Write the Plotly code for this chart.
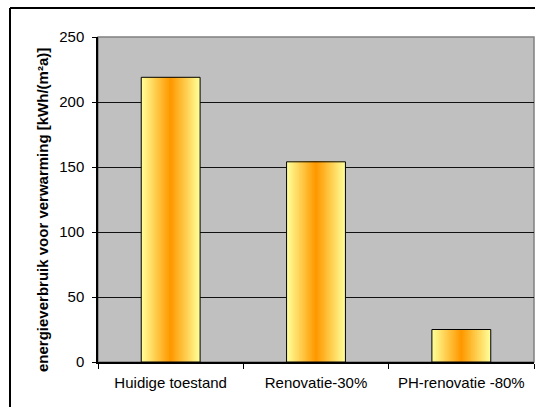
import plotly.graph_objects as go

categories = ["Huidige toestand", "Renovatie-30%", "PH-renovatie -80%"]
values = [219, 154, 25]
y_ticks = [0, 50, 100, 150, 200, 250]
y_title = "energieverbruik voor verwarming [kWh/(m²a)]"

FONT = "Liberation Sans, Arial, sans-serif"
W, H = 535, 407
ML, MR, MT, MB = 98, 1, 37, 45
PW, PH = W - ML - MR, H - MT - MB

edge = (255, 255, 153)
center = (255, 153, 0)
bar_w = 0.405
N = 36

fig = go.Figure()
for k in range(N):
    t = k / (N - 1)
    col = tuple(round(edge[i] + (center[i] - edge[i]) * t) for i in range(3))
    w = bar_w * (1 - k / N)
    fig.add_trace(go.Bar(
        x=categories, y=values, width=[w] * len(categories),
        marker=dict(color="rgb(%d,%d,%d)" % col, line=dict(width=0)),
        showlegend=False, hoverinfo="skip",
    ))
# outline
fig.add_trace(go.Bar(
    x=categories, y=values, width=[bar_w] * len(categories),
    marker=dict(color="rgba(0,0,0,0)", line=dict(color="black", width=1)),
    showlegend=False, hovertemplate="%{x}: %{y}<extra></extra>",
))

bx = (10 - ML) / PW
by = 1 + (MT - 8) / PH

fig.update_layout(
    width=W, height=H,
    margin=dict(l=ML, r=MR, t=MT, b=MB),
    barmode="overlay",
    paper_bgcolor="white",
    plot_bgcolor="#C0C0C0",
    font=dict(family=FONT, size=15, color="black"),
    xaxis=dict(
        type="category", showgrid=False, showline=True, linecolor="black", linewidth=1.5,
        ticks="outside", tickson="boundaries", ticklen=5, tickcolor="black", tickwidth=1,
        tickfont=dict(family=FONT, size=15, color="black"), ticklabelstandoff=6,
        zeroline=False,
    ),
    yaxis=dict(
        range=[0, 250], tickvals=y_ticks, showgrid=True, gridcolor="#111111", gridwidth=1,
        showline=True, linecolor="black", linewidth=1.5,
        ticks="outside", ticklen=4, tickcolor="black", tickwidth=1,
        tickfont=dict(family=FONT, size=15, color="black"), ticklabelstandoff=5,
        zeroline=False,
    ),
    shapes=[
        dict(type="rect", xref="paper", yref="paper", x0=0, x1=1, y0=0, y1=1,
             line=dict(color="#808080", width=1.5), fillcolor="rgba(0,0,0,0)", layer="below"),
        dict(type="line", xref="paper", yref="paper", x0=bx, x1=1.5, y0=by, y1=by,
             line=dict(color="black", width=2)),
        dict(type="line", xref="paper", yref="paper", x0=bx, x1=bx, y0=by, y1=-1,
             line=dict(color="black", width=2)),
    ],
    annotations=[
        dict(text="<b>" + y_title + "</b>", textangle=-90, xref="paper", yref="paper",
             x=(42 - ML) / PW, y=(MT + PH - 210) / PH, xanchor="center", yanchor="middle",
             showarrow=False, font=dict(family=FONT, size=15, color="black")),
    ],
)

fig.write_html("out.html")
